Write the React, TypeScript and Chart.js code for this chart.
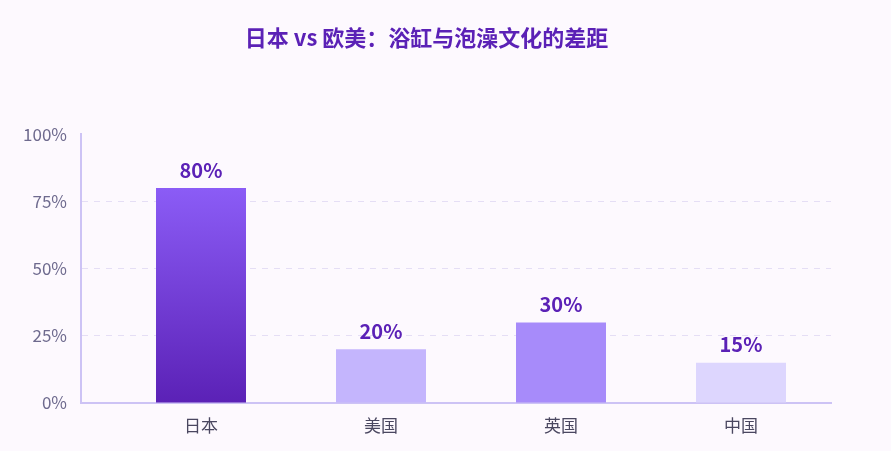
import React, { useEffect, useRef } from "react";
import { Chart, registerables } from "chart.js";

Chart.register(...registerables);

const titleText = "日本 vs 欧美：浴缸与泡澡文化的差距";
const countries = ["日本", "美国", "英国", "中国"];
const bathRates = [80, 20, 30, 15];
const barColors = ["#8b5cf6", "#c4b5fd", "#a78bfa", "#ddd6fe"];
const yTicks = [0, 25, 50, 75, 100];

const FONT = "'Noto Sans CJK SC', 'Noto Sans', sans-serif";
const BG = "#fdf9fe";

const bgPlugin = {
  id: "bg",
  beforeDraw(chart) {
    const { ctx, width, height } = chart;
    ctx.save();
    ctx.fillStyle = BG;
    ctx.fillRect(0, 0, width, height);
    ctx.restore();
  },
};

const labelPlugin = {
  id: "valueLabels",
  afterDatasetsDraw(chart) {
    const { ctx } = chart;
    const meta = chart.getDatasetMeta(0);
    ctx.save();
    ctx.font = `bold 20px ${FONT}`;
    ctx.fillStyle = "#5b21b6";
    ctx.textAlign = "center";
    ctx.textBaseline = "bottom";
    meta.data.forEach((bar, i) => {
      ctx.fillText(bathRates[i] + "%", bar.x, bar.y - 8);
    });
    ctx.restore();
  },
};

export default function App() {
  const ref = useRef<HTMLCanvasElement>(null);

  useEffect(() => {
    document.body.style.margin = "0";
    document.body.style.background = BG;
    const ctx = ref.current!.getContext("2d")!;

    const chart = new Chart(ctx, {
      type: "bar",
      data: {
        datasets: [
          {
            data: bathRates.map((v, i) => ({ x: i, y: v })),
            backgroundColor: (c) => {
              const i = c.dataIndex;
              if (i !== 0) return barColors[i];
              const area = c.chart.chartArea;
              if (!area) return barColors[0];
              const g = c.chart.ctx.createLinearGradient(0, area.top, 0, area.bottom);
              g.addColorStop(0, "#9361f7");
              g.addColorStop(0.2, "#8b5cf6");
              g.addColorStop(1, "#5b21b6");
              return g;
            },
            categoryPercentage: 1,
            barPercentage: 0.5,
          },
        ],
      },
      options: {
        responsive: false,
        animation: false,
        layout: { padding: { left: 22, right: 60, top: 0, bottom: 0 } },
        plugins: {
          legend: { display: false },
          tooltip: { enabled: false },
          title: {
            display: true,
            text: titleText,
            color: "#5b21b6",
            font: { family: FONT, size: 22, weight: "bold" },
            padding: { top: 24, bottom: 84 },
          },
        },
        scales: {
          x: {
            type: "linear",
            offset: false,
            min: -2 / 3,
            max: 3.5,
            afterBuildTicks: (s) => {
              s.ticks = countries.map((_, i) => ({ value: i }));
            },
            grid: { display: false, drawTicks: false, offset: false },
            border: { color: "#cdc3f5", width: 2 },
            ticks: {
              color: "#4a4760",
              font: { family: FONT, size: 17 },
              padding: 12,
              callback: (v) => countries[v as number] ?? "",
            },
            afterFit: (s) => {
              s.height = 48;
            },
          },
          y: {
            min: 0,
            max: 100,
            afterBuildTicks: (s) => {
              s.ticks = yTicks.map((v) => ({ value: v }));
            },
            grid: {
              drawTicks: false,
              color: (c) =>
                c.tick && (c.tick.value === 100 || c.tick.value === 0)
                  ? "rgba(0,0,0,0)"
                  : "rgba(205,195,235,0.5)",
              lineWidth: 1,
            },
            border: { color: "#cdc3f5", width: 2, dash: [6, 6] },
            ticks: {
              color: "#6e6a8e",
              font: { family: FONT, size: 17 },
              padding: 14,
              callback: (v) => v + "%",
            },
            afterFit: (s) => {
              s.width = 59;
            },
          },
        },
      },
      plugins: [bgPlugin, labelPlugin],
    });

    return () => {
      chart.destroy();
    };
  }, []);

  return <canvas ref={ref} width={891} height={451} style={{ display: "block" }} />;
}
